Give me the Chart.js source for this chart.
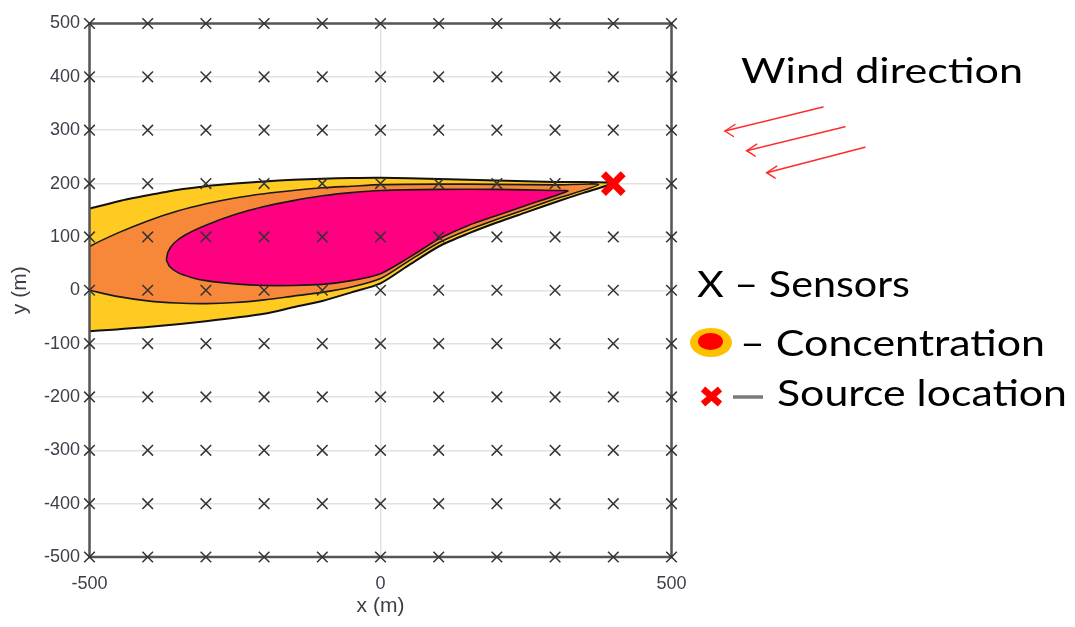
<!DOCTYPE html>
<html><head><meta charset="utf-8">
<script src="https://cdn.jsdelivr.net/npm/chart.js@4"></script>
<style>
html,body{margin:0;padding:0;background:#fff;}
#wrap{position:relative;width:1075px;height:627px;overflow:hidden;}
canvas{position:absolute;left:0;top:0;}
svg{position:absolute;left:0;top:0;pointer-events:none;}
</style></head><body>
<div id="wrap">
<canvas id="c" width="1075" height="627"></canvas>
<svg width="1075" height="627" viewBox="0 0 1075 627" xmlns="http://www.w3.org/2000/svg">
  <text x="741" y="83" font-family="Lato" font-size="35" fill="#000" textLength="282" lengthAdjust="spacingAndGlyphs">Wind direction</text>
  <g stroke="#ff2a2a" stroke-width="1.4" fill="none" stroke-linecap="round">
    <line x1="823" y1="107" x2="725" y2="131"/>
    <polyline points="735,124.5 725,131 733.5,136.5"/>
    <line x1="845" y1="126.7" x2="746.7" y2="150.7"/>
    <polyline points="756.7,144.2 746.7,150.7 755.2,156.2"/>
    <line x1="865" y1="147.3" x2="766.7" y2="172.7"/>
    <polyline points="776.7,166.2 766.7,172.7 775.2,178.2"/>
  </g>
  <text x="697" y="297" font-family="Lato" font-size="36" fill="#000" textLength="213" lengthAdjust="spacingAndGlyphs">X – Sensors</text>
  <ellipse cx="711" cy="342.5" rx="21" ry="14.5" fill="#FFC000"/>
  <ellipse cx="710.5" cy="341.5" rx="12.5" ry="8.5" fill="#FF0000"/>
  <text x="740" y="356" font-family="Lato" font-size="36" fill="#000" textLength="305" lengthAdjust="spacingAndGlyphs">– Concentration</text>
  <g stroke="#FF0000" stroke-width="6.5" stroke-linecap="butt">
    <line x1="703" y1="389" x2="720" y2="404"/>
    <line x1="720" y1="389" x2="703" y2="404"/>
  </g>
  <line x1="733" y1="397" x2="763" y2="397" stroke="#7a7a7a" stroke-width="3.5"/>
  <text x="777" y="406" font-family="Lato" font-size="36" fill="#000" textLength="290" lengthAdjust="spacingAndGlyphs">Source location</text>
</svg>
</div>
<script>
// ---- data ----
const xTicks = [-500, 0, 500];
const yTicks = [-500, -400, -300, -200, -100, 0, 100, 200, 300, 400, 500];
const sensorX = [-500, -400, -300, -200, -100, 0, 100, 200, 300, 400, 500];
const sensorY = [-500, -400, -300, -200, -100, 0, 100, 200, 300, 400, 500];
const sourceLocation = [[400, 200]];
// concentration contours (closed outlines, x, y in m)
const outerPlume = [[-550,-80],[-550,139],[-500,153],[-450,167],[-400,178],[-350,188],[-300,195],[-250,200],[-200,204],[-150,207],[-100,209],[-50,210.5],[0,211],[100,208.5],[200,205.5],[300,203],[397,201],[350,183],[300,165],[250,146],[200,127],[150,106],[100,82],[50,48],[0,13],[-50,-4],[-100,-20],[-150,-32],[-200,-44],[-300,-58],[-400,-69],[-500,-77],[-550,-80]];
const middlePlume = [[-550,12],[-550,50],[-500,82],[-450,108],[-400,130],[-350,148],[-300,162],[-250,173],[-200,181],[-150,187],[-100,192],[-50,195],[0,198],[100,199],[200,198.5],[300,197.5],[375,198],[300,171],[250,152],[200,133],[150,113],[100,89],[50,56],[0,22],[-50,6],[-100,-4],[-150,-11],[-200,-18],[-250,-23],[-300,-25],[-350,-24],[-400,-20],[-450,-12],[-500,0],[-550,12]];
const innerPlume = [[-368,57],[-365,72],[-355,88],[-335,104],[-300,122],[-250,142],[-200,157],[-150,168],[-100,177],[-50,183],[0,187],[100,189],[200,189],[300,187],[322,186],[250,159],[200,140],[150,121],[100,96],[50,62],[0,31],[-50,18],[-100,11],[-150,9],[-200,9],[-250,12],[-300,18],[-325,24],[-348,33],[-362,44],[-368,57]];

const toPts = a => a.map(p => ({x: p[0], y: p[1]}));
const sensors = [];
sensorY.forEach(y => sensorX.forEach(x => sensors.push({x, y})));

const frame = {
  id: 'frame',
  afterDatasetDraw(chart, args) {
    if (chart.data.datasets[args.index].label !== 'inner') return;
    const a = chart.chartArea, ctx = chart.ctx;
    ctx.save();
    ctx.strokeStyle = '#555';
    ctx.lineWidth = 2.5;
    ctx.strokeRect(a.left, a.top, a.right - a.left, a.bottom - a.top);
    ctx.restore();
  }
};

const tickFont = {family: "'Liberation Sans', Arial, sans-serif", size: 18};
const tickColor = '#3e3e4a';

new Chart(document.getElementById('c'), {
  type: 'scatter',
  data: {
    datasets: [
      {label: 'source', data: toPts(sourceLocation), pointStyle: 'crossRot', radius: 14, borderWidth: 7, borderColor: '#FF0000', backgroundColor: '#FF0000', clip: false, order: 0},
      {label: 'sensors', data: sensors, pointStyle: 'crossRot', radius: 7.5, borderWidth: 1.5, borderColor: '#333', clip: false, order: 1},
      {label: 'inner', type: 'line', data: toPts(innerPlume), fill: 'shape', backgroundColor: '#FF0080', borderColor: '#1a1a1a', borderWidth: 1.6, pointRadius: 0, tension: 0.25, clip: 0, order: 2},
      {label: 'middle', type: 'line', data: toPts(middlePlume), fill: 'shape', backgroundColor: '#F7883A', borderColor: '#1a1a1a', borderWidth: 1.6, pointRadius: 0, tension: 0.25, clip: 0, order: 3},
      {label: 'outer', type: 'line', data: toPts(outerPlume), fill: 'shape', backgroundColor: '#FFCB22', borderColor: '#111', borderWidth: 2, pointRadius: 0, tension: 0.25, clip: 0, order: 4}
    ]
  },
  options: {
    responsive: false,
    devicePixelRatio: 1,
    animation: false,
    events: [],
    layout: {padding: {left: 0, top: 23.5, right: 403.5, bottom: 0}},
    plugins: {legend: {display: false}, tooltip: {enabled: false}},
    scales: {
      x: {
        type: 'linear', min: -500, max: 500,
        afterBuildTicks: s => { s.ticks = xTicks.map(v => ({value: v})); },
        afterFit: s => { s.height = 70; },
        grid: {color: '#e2e2e2', lineWidth: 1.5, drawTicks: false},
        border: {display: false},
        ticks: {font: tickFont, color: tickColor, padding: 16, maxRotation: 0},
        title: {display: true, text: 'x (m)', font: {family: "'Liberation Sans', Arial, sans-serif", size: 21}, color: tickColor, padding: {top: 0, bottom: 8}}
      },
      y: {
        type: 'linear', min: -500, max: 500,
        afterBuildTicks: s => { s.ticks = yTicks.map(v => ({value: v})); },
        afterFit: s => { s.width = 89.5; },
        grid: {color: '#e2e2e2', lineWidth: 1.5, drawTicks: false},
        border: {display: false},
        ticks: {font: tickFont, color: tickColor, padding: 9.5},
        title: {display: true, text: 'y (m)', font: {family: "'Liberation Sans', Arial, sans-serif", size: 21}, color: tickColor, padding: {top: 8, bottom: 0}}
      }
    }
  },
  plugins: [frame]
});
</script>
</body></html>
